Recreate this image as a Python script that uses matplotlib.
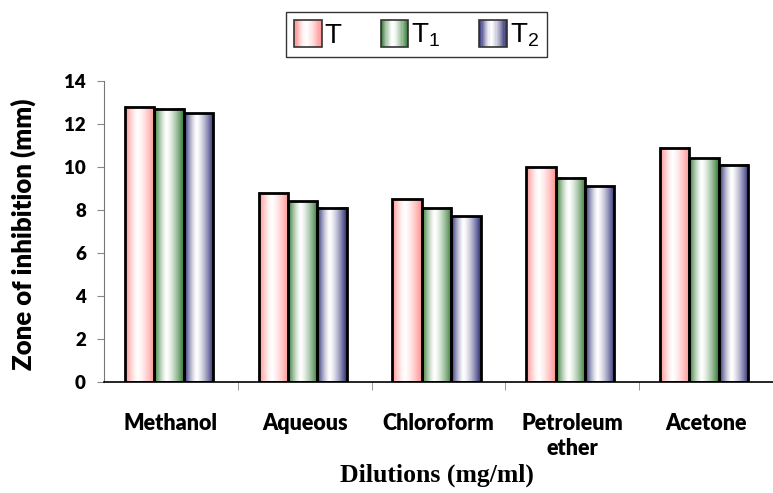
import numpy as np
import matplotlib.pyplot as plt
from matplotlib.patches import Rectangle
from matplotlib.legend_handler import HandlerBase
from matplotlib.colors import to_rgb

# zone of inhibition for each solvent extract
solvents = ['Methanol', 'Aqueous', 'Chloroform', 'Petroleum\nether', 'Acetone']
series = ['T', r'$\mathregular{T_1}$', r'$\mathregular{T_2}$']
val_T = [12.8, 8.8, 8.5, 10.0, 10.9]
val_T1 = [12.7, 8.4, 8.1, 9.5, 10.4]
val_T2 = [12.5, 8.1, 7.7, 9.1, 10.1]
yticks = [0, 2, 4, 6, 8, 10, 12, 14]

edge_cols = ['#ff9090', '#347a34', '#2c2c74']


def gradient_rgb(col, n=64):
    # coloured at both edges, white a little left of centre
    t = np.linspace(0, 1, n)
    w = np.where(t < 0.42, (0.42 - t) / 0.42, (t - 0.42) / 0.58)
    w = w ** 1.4
    c = np.array(to_rgb(col))
    return 1 - w[:, None] * (1 - c[None, :])


class GradHandler(HandlerBase):
    def __init__(self, col):
        super().__init__()
        self.col = col

    def create_artists(self, legend, orig_handle, xdescent, ydescent,
                       width, height, fontsize, trans):
        g = gradient_rgb(self.col, 24)
        n = len(g)
        arts = []
        for i in range(n):
            arts.append(Rectangle((-xdescent + width * i / n, -ydescent),
                                  width / n * 1.05, height, facecolor=g[i],
                                  edgecolor='none', transform=trans))
        arts.append(Rectangle((-xdescent, -ydescent), width, height,
                              facecolor='none', edgecolor='#333333',
                              linewidth=1.2, transform=trans))
        return arts


fig = plt.figure(figsize=(7.73, 4.93), dpi=100)
ax = fig.add_axes([104 / 773, 1 - 382 / 493, 1 - 104 / 773, (382 - 81) / 493])

x = np.arange(len(solvents))
bw = 0.22
data = [val_T, val_T1, val_T2]
for k, vals in enumerate(data):
    grad = gradient_rgb(edge_cols[k])[None, :, :]
    for i, v in enumerate(vals):
        x0 = x[i] + (k - 1) * bw - bw / 2 - 0.015
        ax.imshow(grad, extent=[x0, x0 + bw, 0, v], aspect='auto',
                  interpolation='bilinear', zorder=2)
    ax.bar(x + (k - 1) * bw - 0.015, vals, bw, facecolor='none',
           edgecolor='black', linewidth=2.0, zorder=3)

ax.set_xlim(-0.5, (773 - 105) / 137.5 - 0.5)
ax.set_ylim(0, 14)
ax.set_yticks(yticks)
ax.set_yticklabels([str(t) for t in yticks], fontsize=13.5, fontweight='heavy',
                   family='Lato')
ax.set_xticks(x)
ax.set_xticklabels(solvents, fontsize=15.5, fontweight='heavy', family='Lato',
                   linespacing=1.25, va='top')
ax.set_xticks(np.arange(len(solvents)) + 0.5, minor=True)
ax.tick_params(axis='x', which='major', length=0, pad=22)
ax.tick_params(axis='x', which='minor', length=6, color='#888888', direction='out')
ax.tick_params(axis='y', length=5, color='#888888', direction='out', pad=8)
for s in ['top', 'right']:
    ax.spines[s].set_visible(False)
ax.spines['left'].set_color('#777777')
ax.spines['bottom'].set_color('black')
ax.spines['bottom'].set_linewidth(1.2)

ax.set_ylabel('Zone of inhibition (mm)', fontsize=18.5, fontweight='heavy',
              family='Lato', va='center')
ax.yaxis.set_label_coords(-(104 - 23) / 669, 0.49)
fig.text(437 / 773, 1 - 475 / 493, 'Dilutions (mg/ml)', ha='center',
         va='center', fontsize=18.5, fontweight='bold', family='Liberation Serif')

proxies = [Rectangle((0, 0), 1, 1) for _ in series]
leg = fig.legend(proxies, series, ncol=3, loc='center',
                 bbox_to_anchor=(416.5 / 773, 1 - 34.5 / 493),
                 handler_map={p: GradHandler(c) for p, c in zip(proxies, edge_cols)},
                 prop={'family': 'Liberation Sans', 'size': 20},
                 handlelength=1.0, handleheight=1.1, handletextpad=0.1,
                 columnspacing=1.4, frameon=True, fancybox=False,
                 borderpad=0.3)
leg.get_frame().set_edgecolor('black')
leg.get_frame().set_linewidth(1.0)

fig.savefig('out.png', dpi=100)
